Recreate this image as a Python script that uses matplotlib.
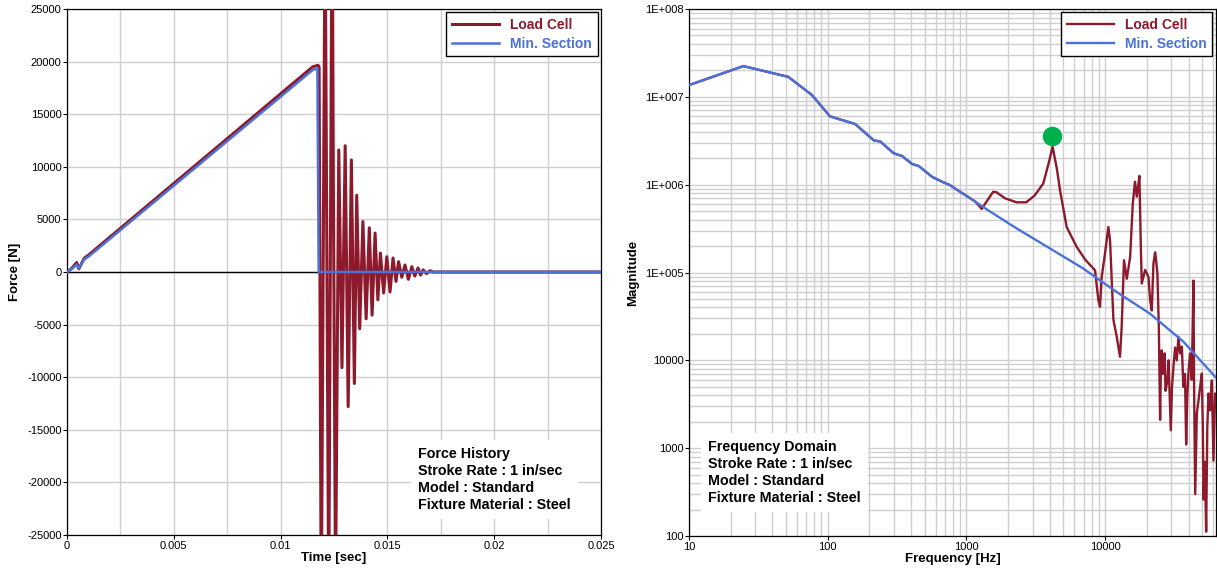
import matplotlib
matplotlib.use("Agg")
import matplotlib.pyplot as plt
import matplotlib.ticker as mticker
import numpy as np

plt.rcParams["font.family"] = ["Liberation Sans", "DejaVu Sans"]

RED = "#8C1A2C"
BLUE = "#4A72DA"
GRID = "#CFCFCF"

# --- force history (time domain) ---
load_t = [0, 0.0002, 0.00045, 0.00055, 0.0008, 0.001, 0.0115, 0.01175, 0.0118,
          0.01190, 0.01208, 0.01225, 0.01240, 0.01257, 0.01272, 0.01287, 0.01302,
          0.01316, 0.01331, 0.01345, 0.01356, 0.01370, 0.01385, 0.01400, 0.01415,
          0.01428, 0.01442, 0.01455, 0.01467, 0.01482, 0.01497, 0.01512, 0.01526,
          0.01540, 0.01552, 0.01567, 0.01582, 0.01598, 0.01614, 0.01628, 0.01643,
          0.01655, 0.01667, 0.01683, 0.01699, 0.01715, 0.025]
load_force = [0, 300, 900, 300, 1300, 1600, 19500, 19650, 19500,
              -33000, 34000, -32000, 33000, -30000, 11600, -9100, 12000,
              -12800, 10650, -10600, 7300, -5400, 4800, -4450, 4200,
              -4100, 3700, -2650, 1800, -2000, 1450, -1900, 1330,
              -900, 980, -500, 660, -700, 500, -390, 380,
              -300, 200, -160, 120, 0, 0]

sect_t = [0, 0.0002, 0.00045, 0.00055, 0.0008, 0.001, 0.0115, 0.01172, 0.01178, 0.025]
sect_force = [0, 250, 700, 350, 1200, 1450, 19200, 19350, 0, 0]

# --- frequency domain ---
sect_freq = [10, 24.7, 52, 77, 104, 158, 215, 240, 299, 344, 406, 454, 566, 669,
             760, 1164, 1336, 2302, 4008, 6970, 12130, 21100, 36730, 64000]
sect_mag = [1.36e7, 2.24e7, 1.69e7, 1.05e7, 6.0e6, 4.9e6, 3.2e6, 3.1e6, 2.28e6,
            2.12e6, 1.72e6, 1.63e6, 1.23e6, 1.08e6, 9.9e5, 6.4e5, 5.5e5, 3.18e5,
            1.88e5, 1.11e5, 6.0e4, 3.4e4, 1.63e4, 6.2e3]

load_freq_hi = [1290, 1450, 1560, 1650, 1900, 2300, 2700, 3100, 3586, 3900, 4190,
                4500, 4732, 5289, 6243, 7200, 8470, 8950, 9200, 9460, 10000, 10570,
                10870, 11490, 12140, 12820, 13180, 13700, 14350, 15170, 15850,
                16440, 16930, 17310, 17690, 18100, 18400, 19450, 20560, 21130,
                21720, 22330, 22960, 23350, 23860, 24420, 24950, 25300, 25640,
                26000, 26340, 26900, 27300, 28170, 28700, 29790, 30400, 31120,
                32000, 32900, 33830, 34800, 35800, 36700, 37700, 38450, 39200,
                39900, 41000, 42200, 43400, 43900, 44670, 45900, 47200, 48500,
                49900, 50700, 51300, 52400, 53600, 54600, 55700, 57300, 58900,
                60500, 62200, 64000]
load_mag_hi = [5.3e5, 7.0e5, 8.3e5, 8.2e5, 7.0e5, 6.3e5, 6.3e5, 7.5e5, 1.03e6,
               1.7e6, 2.7e6, 1.5e6, 8.7e5, 3.3e5, 1.96e5, 1.4e5, 1.06e5, 4.85e4,
               4.07e4, 8.9e4, 1.66e5, 3.3e5, 2.3e5, 2.9e4, 1.86e4, 1.1e4, 2.4e4,
               1.38e5, 8.5e4, 1.5e5, 6.1e5, 1.08e6, 7.3e5, 9.5e5, 1.26e6, 2.1e5,
               7.5e4, 1.07e5, 8.9e4, 4.9e4, 3.7e4, 1.26e5, 1.7e5, 1.38e5, 9.7e4,
               2.4e4, 2.1e3, 1.0e4, 1.3e4, 7e3, 8.4e3, 1.2e4, 4.5e3, 5.9e3, 1.0e4,
               1.6e3, 5e3, 8.4e3, 1.4e4, 1.0e4, 1.85e4, 1.2e4, 1.43e4, 5e3, 7e3,
               1.1e3, 4e3, 7.1e3, 1.2e4, 6e3, 8.1e4, 4.2e3, 300, 2.5e3, 3.5e3,
               5e3, 7.1e3, 1.7e3, 260, 700, 112, 1.7e3, 4.2e3, 2.7e3, 5.9e3, 720,
               4.2e3, 3e3]

load_freq = sect_freq[:16] + load_freq_hi
load_mag = sect_mag[:16] + load_mag_hi

peak_freq = 4140
peak_mag = 3.6e6

note_left = "Force History\nStroke Rate : 1 in/sec\nModel : Standard\nFixture Material : Steel"
note_right = "Frequency Domain\nStroke Rate : 1 in/sec\nModel : Standard\nFixture Material : Steel"


def style_axes(ax):
    for sp in ax.spines.values():
        sp.set_color("black")
        sp.set_linewidth(0.9)
    ax.tick_params(which="major", direction="out", length=3, width=0.8,
                   labelsize=8, colors="black", pad=1)
    ax.tick_params(which="minor", length=0)
    ax.grid(True, which="both", color=GRID, linewidth=1.0)
    ax.set_axisbelow(True)


def add_legend(ax):
    leg = ax.legend(loc="upper right", frameon=True, fancybox=False,
                    framealpha=1, edgecolor="black", borderaxespad=0.25,
                    handlelength=3.4, prop={"weight": "bold", "size": 10},
                    labelspacing=0.35)
    leg.get_frame().set_linewidth(1.0)
    for txt, col in zip(leg.get_texts(), [RED, BLUE]):
        txt.set_color(col)


def add_note(ax, x, y, text):
    ax.text(x, y, text, transform=ax.transAxes, ha="left", va="bottom",
            fontsize=10.3, fontweight="bold", linespacing=1.28, zorder=5,
            bbox=dict(facecolor="white", edgecolor="none", pad=5))


fig = plt.figure(figsize=(12.17, 5.75), dpi=100)
ax1 = fig.add_axes([0.0551, 0.0696, 0.4388, 0.9148])
ax2 = fig.add_axes([0.5661, 0.0678, 0.4330, 0.9165])

# left: force vs time
ax1.axhline(0, color="black", linewidth=1.0, zorder=1.5)
ax1.plot(load_t, load_force, color=RED, linewidth=2.2, label="Load Cell", zorder=3)
ax1.plot(sect_t, sect_force, color=BLUE, linewidth=1.8, label="Min. Section", zorder=4)
ax1.set_xlim(0, 0.025)
ax1.set_ylim(-25000, 25000)
ax1.xaxis.set_major_locator(mticker.MultipleLocator(0.005))
ax1.xaxis.set_minor_locator(mticker.MultipleLocator(0.0025))
ax1.yaxis.set_major_locator(mticker.MultipleLocator(5000))
ax1.xaxis.set_major_formatter(mticker.FuncFormatter(lambda v, p: f"{v:g}"))
ax1.yaxis.set_major_formatter(mticker.FuncFormatter(lambda v, p: f"{v:.0f}"))
ax1.set_xlabel("Time [sec]", fontsize=9.5, fontweight="bold", labelpad=1)
ax1.set_ylabel("Force [N]", fontsize=9.5, fontweight="bold", labelpad=4)
style_axes(ax1)
add_legend(ax1)
add_note(ax1, 0.657, 0.044, note_left)

# right: magnitude spectrum
ax2.plot(load_freq, load_mag, color=RED, linewidth=1.7, label="Load Cell", zorder=3)
ax2.plot(sect_freq, sect_mag, color=BLUE, linewidth=1.7, label="Min. Section", zorder=4)
ax2.plot([peak_freq], [peak_mag], "o", color="#00B04F", markersize=13, zorder=6)
ax2.set_xscale("log")
ax2.set_yscale("log")
ax2.set_xlim(10, 63000)
ax2.set_ylim(100, 1e8)
ax2.xaxis.set_major_locator(mticker.LogLocator(base=10, numticks=10))
ax2.xaxis.set_minor_locator(mticker.LogLocator(base=10, subs=np.arange(2, 10), numticks=50))
ax2.yaxis.set_major_locator(mticker.LogLocator(base=10, numticks=10))
ax2.yaxis.set_minor_locator(mticker.LogLocator(base=10, subs=np.arange(2, 10), numticks=50))
ax2.xaxis.set_major_formatter(mticker.FuncFormatter(lambda v, p: f"{v:.0f}"))


def mag_label(v, pos):
    if v >= 1e5:
        return "1E+%03d" % round(np.log10(v))
    return f"{v:.0f}"


ax2.yaxis.set_major_formatter(mticker.FuncFormatter(mag_label))
ax2.xaxis.set_minor_formatter(mticker.NullFormatter())
ax2.yaxis.set_minor_formatter(mticker.NullFormatter())
ax2.set_xlabel("Frequency [Hz]", fontsize=9.5, fontweight="bold", labelpad=1)
ax2.set_ylabel("Magnitude", fontsize=9.5, fontweight="bold", labelpad=4)
style_axes(ax2)
add_legend(ax2)
add_note(ax2, 0.036, 0.058, note_right)

fig.savefig("out.png", dpi=100)
